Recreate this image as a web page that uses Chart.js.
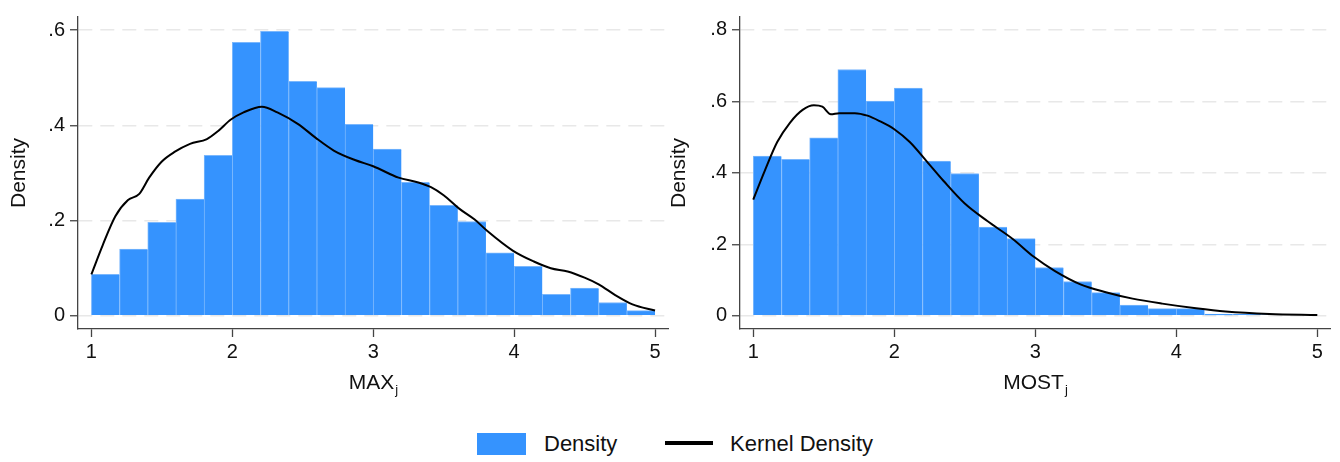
<!DOCTYPE html>
<html>
<head>
<meta charset="utf-8">
<script src="https://cdn.jsdelivr.net/npm/chart.js@4"></script>
<style>
  body { margin: 0; background: #fff; width: 1340px; height: 462px; position: relative; overflow: hidden; font-family: "Liberation Sans", Arial, sans-serif; }
  canvas { position: absolute; top: 0; }
  #maxChart { left: 0; }
  #mostChart { left: 660px; }
  .legend-box { position: absolute; left: 477px; top: 433px; width: 49px; height: 22px; background: #3593fe; }
  .legend-line { position: absolute; left: 665px; top: 441px; width: 48px; height: 4px; background: #000; }
  .legend-text { position: absolute; top: 431px; font-size: 22px; line-height: 26px; color: #111; }
</style>
</head>
<body>
<canvas id="maxChart" width="670" height="400"></canvas>
<canvas id="mostChart" width="680" height="400"></canvas>
<div class="legend-box"></div>
<div class="legend-text" style="left:544px">Density</div>
<div class="legend-line"></div>
<div class="legend-text" style="left:730px">Kernel Density</div>

<script>
// histogram bins (centres), width 0.2 from 1 to 5
const binCenters = [1.1, 1.3, 1.5, 1.7, 1.9, 2.1, 2.3, 2.5, 2.7, 2.9, 3.1, 3.3, 3.5, 3.7, 3.9, 4.1, 4.3, 4.5, 4.7, 4.9];

const maxDensity = [0.087, 0.140, 0.196, 0.245, 0.337, 0.574, 0.597, 0.492, 0.479, 0.402,
                    0.350, 0.280, 0.232, 0.198, 0.132, 0.104, 0.045, 0.058, 0.028, 0.011];
const mostDensity = [0.447, 0.438, 0.498, 0.689, 0.601, 0.637, 0.433, 0.398, 0.248, 0.216,
                     0.135, 0.096, 0.065, 0.030, 0.020, 0.020, 0.005, 0.004, 0.003, 0.002];

// kernel density curves
const maxKdeX = [1.0, 1.08, 1.17, 1.26, 1.34, 1.41, 1.50, 1.59, 1.70, 1.82, 1.90, 1.99, 2.08, 2.21, 2.32, 2.47, 2.59, 2.72,
                 2.87, 3.00, 3.18, 3.32, 3.41, 3.50, 3.61, 3.72, 3.81, 3.99, 4.14, 4.26, 4.38, 4.50, 4.60, 4.72, 4.84, 5.0];
const maxKdeY = [0.087, 0.148, 0.209, 0.243, 0.256, 0.290, 0.324, 0.344, 0.361, 0.371, 0.388, 0.412, 0.427, 0.439, 0.427, 0.402, 0.374, 0.347,
                 0.327, 0.314, 0.290, 0.280, 0.270, 0.253, 0.225, 0.202, 0.178, 0.137, 0.114, 0.100, 0.093, 0.080, 0.066, 0.043, 0.024, 0.011];

const mostKdeX = [1.0, 1.08, 1.17, 1.26, 1.35, 1.43, 1.49, 1.55, 1.61, 1.72, 1.81, 1.90, 2.00, 2.11, 2.23, 2.35, 2.50, 2.66,
                  2.84, 2.99, 3.14, 3.32, 3.50, 3.69, 3.90, 4.14, 4.35, 4.66, 5.0];
const mostKdeY = [0.325, 0.404, 0.486, 0.540, 0.576, 0.589, 0.585, 0.564, 0.567, 0.567, 0.560, 0.544, 0.522, 0.486, 0.432, 0.377, 0.314, 0.265,
                  0.215, 0.165, 0.125, 0.088, 0.066, 0.048, 0.034, 0.021, 0.012, 0.005, 0.002];

const xTicks = [1, 2, 3, 4, 5];
const maxYTicks = [0, 0.2, 0.4, 0.6];
const mostYTicks = [0, 0.2, 0.4, 0.6, 0.8];

const BAR_BLUE = "#3593fe";
const FONT = "'Liberation Sans', Arial, sans-serif";

// draws the x title with a subscript letter
const subTitlePlugin = {
  id: "subTitle",
  afterDraw(chart, args, opts) {
    const { ctx, chartArea } = chart;
    ctx.save();
    ctx.fillStyle = "#111";
    ctx.textBaseline = "alphabetic";
    ctx.font = "21px " + FONT;
    const w1 = ctx.measureText(opts.main).width;
    ctx.font = "13px " + FONT;
    const w2 = ctx.measureText(opts.sub).width;
    const x0 = (chartArea.left + chartArea.right) / 2 - (w1 + w2) / 2;
    ctx.font = "21px " + FONT;
    ctx.textAlign = "left";
    ctx.fillText(opts.main, x0, 389);
    ctx.font = "13px " + FONT;
    ctx.fillText(opts.sub, x0 + w1 + 1, 394);
    ctx.restore();
  }
};

function makeChart(canvas, density, kdeX, kdeY, yTicks, yRange, xRange, yWidth, padRight, title) {
  return new Chart(canvas, {
    type: "bar",
    data: {
      datasets: [
        {
          type: "line",
          data: kdeX.map((x, i) => ({ x, y: kdeY[i] })),
          borderColor: "#000",
          borderWidth: 2,
          pointRadius: 0,
          tension: 0.4,
          cubicInterpolationMode: "monotone",
          order: 0
        },
        {
          type: "bar",
          data: binCenters.map((x, i) => ({ x, y: density[i] })),
          backgroundColor: BAR_BLUE,
          borderColor: "#7ab7fd",
          borderWidth: { top: 1, left: 1, right: 0, bottom: 0 },
          borderSkipped: false,
          barPercentage: 1,
          categoryPercentage: 1,
          order: 1
        }
      ]
    },
    options: {
      responsive: false,
      animation: false,
      layout: { padding: { top: 7, right: padRight, left: 0, bottom: 0 } },
      plugins: {
        legend: { display: false },
        tooltip: { enabled: false },
        subTitle: title
      },
      scales: {
        x: {
          type: "linear",
          min: xRange[0],
          max: xRange[1],
          offset: false,
          afterBuildTicks: (s) => { s.ticks = xTicks.map((v) => ({ value: v })); },
          afterFit: (s) => { s.height = 71; },
          grid: { drawOnChartArea: false, offset: false, tickLength: 8, tickColor: "#444", tickWidth: 1.3 },
          border: { color: "#444", width: 1.3 },
          ticks: { color: "#111", padding: 3, font: { family: FONT, size: 20 }, maxRotation: 0 }
        },
        y: {
          min: yRange[0],
          max: yRange[1],
          afterBuildTicks: (s) => { s.ticks = yTicks.map((v) => ({ value: v })); },
          afterFit: (s) => { s.width = yWidth; },
          grid: { color: "#e8e8e8", lineWidth: 1.5, tickLength: 8, tickColor: "#444", tickWidth: 1.3, tickBorderDash: [] },
          border: { color: "#444", width: 1.3, dash: [14, 8] },
          ticks: {
            color: "#111",
            padding: 5,
            font: { family: FONT, size: 20 },
            callback: (v) => (v === 0 ? "0" : v.toFixed(1).replace(/^0/, ""))
          },
          title: { display: true, text: "Density", color: "#111", font: { family: FONT, size: 21 }, padding: { top: 7, bottom: 0 } }
        }
      }
    },
    plugins: [subTitlePlugin]
  });
}

makeChart(document.getElementById("maxChart"), maxDensity, maxKdeX, maxKdeY, maxYTicks,
  [-0.0277, 0.6273], [0.905, 5.092], 78, 2, { main: "MAX", sub: "j" });
makeChart(document.getElementById("mostChart"), mostDensity, mostKdeX, mostKdeY, mostYTicks,
  [-0.037, 0.836], [0.906, 5.09], 80, 10, { main: "MOST", sub: "j" });
</script>
</body>
</html>
